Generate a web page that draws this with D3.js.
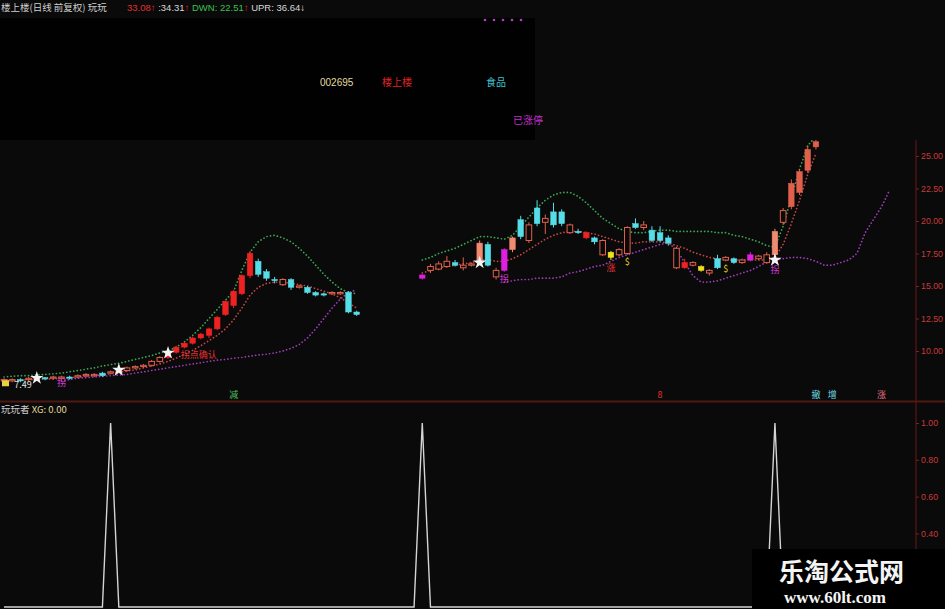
<!DOCTYPE html>
<html><head><meta charset="utf-8">
<script src="https://cdn.jsdelivr.net/npm/d3@7"></script>
<style>
body{margin:0;background:#0a0a0a;}
svg{display:block;font-family:"Liberation Sans","Noto Sans CJK SC",sans-serif;}
</style>
</head><body><svg id="c" width="945" height="609"></svg>
<script>
// ---------- data ----------
const N = 100; // candle slots (index 44..50 suspended)
const openP = [7.7,7.8,7.7,7.8,7.9,7.85,7.95,8.0,7.9,8.0,8.1,8.2,8.1,8.3,8.4,8.5,8.7,8.8,8.9,9.2,9.5,9.9,10.3,10.6,11.0,11.2,11.7,12.8,13.5,14.4,15.8,16.9,16.1,15.5,15.1,15.5,14.9,14.9,14.5,14.3,14.4,14.5,14.5,13.0,
 null,null,null,null,null,null,null,
 15.6,16.2,16.3,16.5,16.8,16.4,16.6,16.8,18.2,15.7,16.2,17.8,20.1,18.5,19.8,20.2,19.7,20.7,19.7,19.1,19.1,18.4,18.5,17.6,17.4,17.5,19.5,19.5,19.3,18.5,18.7,17.9,16.4,16.8,16.5,16.0,16.4,17.0,16.8,17.0,17.0,17.3,16.8,17.4,19.9,21.1,22.2,23.9,25.7];
const closeP = [7.8,7.7,7.8,7.9,7.85,7.95,8.0,7.9,8.0,8.1,8.2,8.1,8.3,8.4,8.5,8.7,8.8,8.9,9.2,9.5,9.8,10.3,10.6,11.0,11.3,11.7,12.6,13.8,14.6,15.8,17.5,15.9,15.6,15.45,15.5,14.9,15.0,14.5,14.3,14.4,14.5,14.4,13.0,12.8,
 null,null,null,null,null,null,null,
 15.85,16.5,16.7,16.9,16.6,16.6,16.7,18.3,16.6,16.2,17.8,18.7,18.8,19.7,21.0,19.9,20.7,19.8,19.1,19.2,18.7,18.7,17.4,17.2,17.8,19.5,19.8,19.7,18.5,19.1,18.3,16.4,16.8,16.6,16.2,16.2,17.1,17.2,17.1,16.8,17.4,17.1,17.4,19.2,20.8,22.9,23.8,25.5,26.1];
const highP = [7.9,7.9,7.9,8.0,8.0,8.0,8.1,8.1,8.1,8.2,8.3,8.3,8.4,8.5,8.6,8.8,8.9,9.0,9.3,9.6,9.9,10.4,10.7,11.1,11.4,11.8,12.7,13.9,14.7,15.9,17.7,17.1,16.3,15.7,15.6,15.6,15.1,15.0,14.6,14.5,14.6,14.6,14.6,13.1,
 null,null,null,null,null,null,null,
 15.9,16.7,16.9,17.3,17.0,17.2,16.8,18.5,18.4,16.4,17.9,18.8,20.4,19.9,21.6,20.5,21.4,20.9,19.8,19.4,19.2,18.8,18.6,17.7,17.9,19.6,20.2,20.0,19.6,19.6,18.9,18.0,17.1,16.9,16.6,16.3,17.4,17.3,17.2,17.1,17.6,17.4,17.6,19.4,21.0,23.2,24.0,25.8,26.3];
const lowP = [7.5,7.6,7.6,7.7,7.7,7.75,7.8,7.8,7.8,7.9,8.0,8.0,8.0,8.2,8.3,8.4,8.6,8.7,8.8,9.1,9.4,9.8,10.2,10.5,10.9,11.0,11.6,12.7,13.3,14.3,15.6,15.7,15.4,15.2,15.0,14.7,14.8,14.4,14.2,14.2,14.3,14.3,12.9,12.7,
 null,null,null,null,null,null,null,
 15.5,16.0,16.2,16.4,16.5,16.2,16.5,16.7,16.5,15.5,16.1,17.6,18.6,18.3,19.6,19.0,19.5,19.6,19.0,19.0,18.6,18.2,17.3,17.0,17.3,17.4,19.4,19.3,18.4,18.4,18.1,16.3,16.3,16.5,16.1,15.8,16.3,16.9,16.7,16.7,16.9,17.0,16.7,17.3,19.7,20.9,22.0,23.7,25.5];
// candle signal class: u=up, c=down, r=strong, m=limit-up, y=signal, s=breakout
const candleFlag = ("uucuucuucuuucuuuuuuurrrrrrrrrrrcccucucccuucc"+"-------"+"muuucuuscumscucuccucrcuyuucucccuruyucucumuusu").split("");

const upperBand = [8.0,8.05,8.1,8.1,8.15,8.2,8.25,8.3,8.4,8.5,8.6,8.7,8.85,8.95,9.05,9.2,9.35,9.5,9.65,9.85,10.0,10.3,
 10.7,11.2,11.8,12.5,13.2,13.9,14.6,16.2,17.6,18.4,18.8,18.9,18.7,18.4,17.9,17.3,16.6,15.9,15.3,14.8,14.5,14.4,
 null,null,null,null,null,null,null,
 17.0,17.2,17.5,17.7,17.9,18.2,18.5,18.8,18.8,18.7,18.6,18.9,19.6,20.3,21.0,21.6,22.0,22.2,22.2,21.9,21.4,20.8,20.2,19.8,19.4,19.2,19.1,19.1,19.2,19.3,19.3,19.2,19.2,19.2,19.2,19.2,19.1,19.1,18.9,18.8,18.6,18.4,18.1,18.0,19.6,21.8,24.0,25.8,26.5];
const midBand = [7.75,7.75,7.75,7.8,7.8,7.85,7.85,7.9,7.95,8.0,8.05,8.1,8.15,8.25,8.35,8.45,8.55,8.7,8.85,9.0,9.2,9.45,9.75,10.05,10.4,10.8,11.2,11.7,12.4,13.3,14.3,14.9,15.2,15.3,15.3,15.2,15.1,15.0,14.8,14.6,14.4,14.1,13.7,13.3,
 null,null,null,null,null,null,null,
 16.0,16.2,16.4,16.5,16.6,16.7,16.8,17.0,17.0,16.9,16.9,17.1,17.4,17.8,18.2,18.6,18.9,19.1,19.2,19.2,19.1,19.0,18.8,18.6,18.4,18.3,18.3,18.4,18.4,18.4,18.3,18.1,17.9,17.6,17.4,17.2,17.1,17.0,17.0,17.0,17.0,17.0,17.0,17.2,18.2,19.8,21.6,23.6,25.2];
const lowerBand = [null,null,null,null,null,null,null,
 7.7,7.8,7.9,7.95,8.0,8.05,8.1,8.15,8.2,8.3,8.4,8.5,8.6,8.7,8.8,8.9,9.0,9.1,9.2,9.3,9.35,9.45,9.5,9.6,9.7,9.75,9.85,10.0,10.2,10.5,11.0,11.7,12.5,13.3,14.0,14.5,14.7,
 null,null,null,null,null,null,null,null,null,null,null,null,null,null,null,null,null,
 15.3,15.4,15.5,15.5,15.6,15.6,15.6,15.7,
 16.0,16.1,16.3,16.5,16.6,16.9,17.2,17.4,17.6,17.8,18.0,18.2,
 18.3,17.8,16.8,15.8,15.3,15.3,15.4,15.6,15.8,
 16.0,16.2,16.5,16.85,17.0,17.1,17.2,17.2,17.1,16.9,
 16.6,16.6,16.8,17.0,17.5,19.1,20.1,21.1,22.4];

const priceTicks = [10, 12.5, 15, 17.5, 20, 22.5, 25];
const xgTicks = [0.4, 0.6, 0.8, 1.0];
const xgSignalIdx = [13, 51, 94];   // XG = 1 on these bars, 0 elsewhere
const xgLength = 104;
const starIdx = [4, 14, 20, 58, 94];
const starPrice = [7.92, 8.54, 9.85, 16.8, 17.0];
const labelIdx = [1, 7, 21.3, 61, 74, 76, 88, 94];
const labelPrice = [7.49, 7.6, 9.75, 15.6, 16.5, 16.9, 16.4, 16.3];
const labelText = ["7.49", "拐", "拐点确认", "拐", "涨", "$", "$", "拐"];
const labelKind = ["low", "turn", "note", "turn", "note", "sig", "sig", "turn"];
const footIdx = [28, 80, 99, 101, 107];
const footText = ["减", "8", "撤", "增", "涨"];
const footKind = ["down", "note", "cyan", "cyan", "pink"];

// ---------- drawing ----------
const svg = d3.select("#c");
const W = 945, H = 609, AX = 916;
svg.append("rect").attr("width", W).attr("height", H).attr("fill", "#0a0a0a");

const x = d3.scaleLinear().domain([0, 111.2]).range([4, AX]);
const y = d3.scaleLinear().domain([10, 25]).range([351, 156]);
const y2 = d3.scaleLinear().domain([0, 1]).range([607, 423]);

const defs = svg.append("defs");
defs.append("clipPath").attr("id", "mainClip").append("rect")
  .attr("x", 0).attr("y", 140).attr("width", AX).attr("height", 260);

const main = svg.append("g").attr("clip-path", "url(#mainClip)");

const bandStyle = [
  [lowerBand, "#9c3cb8"],
  [midBand, "#c04545"],
  [upperBand, "#3aa653"]
];
bandStyle.forEach(([arr, col]) => {
  const line = d3.line().defined(d => d != null).x((d, i) => x(i)).y(d => y(d));
  main.append("path").attr("d", line(arr)).attr("fill", "none")
    .attr("stroke", col).attr("stroke-width", 1.7)
    .attr("stroke-dasharray", "0.1,3.4").attr("stroke-linecap", "round");
});

const colorOf = {u: "#e0604c", c: "#55dde8", r: "#ee2222", m: "#e020e0", y: "#f2e020", s: "#f08a70"};
const bw = 5.6;
const idx = d3.range(N).filter(i => openP[i] != null);
const cg = main.append("g");
idx.forEach(i => {
  const f = candleFlag[i];
  const col = colorOf[f] || "#e0604c";
  const cx = x(i);
  const top = y(Math.max(openP[i], closeP[i]));
  const bot = y(Math.min(openP[i], closeP[i]));
  cg.append("line").attr("x1", cx).attr("x2", cx)
    .attr("y1", y(highP[i])).attr("y2", y(lowP[i]))
    .attr("stroke", col).attr("stroke-width", 1);
  const hollow = f === "u";
  cg.append("rect").attr("x", cx - bw / 2).attr("y", top)
    .attr("width", bw).attr("height", Math.max(1.2, bot - top))
    .attr("fill", hollow ? "#0a0a0a" : col)
    .attr("stroke", col).attr("stroke-width", hollow ? 1 : 0.5);
});

// stars
starIdx.forEach((si, k) => {
  main.append("path").attr("d", d3.symbol(d3.symbolStar, 55)())
    .attr("transform", `translate(${x(si)},${y(starPrice[k])})`)
    .attr("fill", "#f4f4f4");
});

// labels
const kindColor = {low: "#e6e6e6", turn: "#d838d8", note: "#e83030", sig: "#e8d020", down: "#49c060", cyan: "#6fd8e0", pink: "#e07080"};
labelIdx.forEach((li, k) => {
  const startAnchored = labelKind[k] === "low" || labelText[k].length > 1;
  main.append("text").attr("x", x(li) + (startAnchored ? 2 : 0))
    .attr("y", y(labelPrice[k]) + 4)
    .attr("text-anchor", startAnchored ? "start" : "middle")
    .attr("font-size", 9).attr("fill", kindColor[labelKind[k]])
    .attr("font-family", "'Noto Sans CJK SC',sans-serif")
    .text(labelText[k]);
});
// little yellow marker before lowest price label
main.append("rect").attr("x", x(0) - 2).attr("y", y(7.75)).attr("width", 7).attr("height", 6).attr("fill", "#e8d040");

footIdx.forEach((fi, k) => {
  svg.append("text").attr("x", x(fi)).attr("y", 398).attr("text-anchor", "middle")
    .attr("font-size", 9).attr("fill", kindColor[footKind[k]])
    .attr("font-family", "'Noto Sans CJK SC',sans-serif").text(footText[k]);
});

// top overlay block
svg.append("rect").attr("x", 0).attr("y", 18).attr("width", 535).attr("height", 122).attr("fill", "#010101");
[485, 494, 503, 512, 521].forEach(px => svg.append("circle").attr("cx", px).attr("cy", 20).attr("r", 1.3).attr("fill", "#b040c0"));
const ov = svg.append("g").attr("font-family", "'Noto Sans CJK SC',sans-serif").attr("font-size", 10);
ov.append("text").attr("x", 320).attr("y", 86).attr("fill", "#e4dca0").attr("font-family", "'Liberation Sans Narrow','Liberation Sans',sans-serif").text("002695");
ov.append("text").attr("x", 382).attr("y", 86).attr("fill", "#e02424").text("楼上楼");
ov.append("text").attr("x", 486).attr("y", 86).attr("fill", "#40c0d0").text("食品");
ov.append("text").attr("x", 513).attr("y", 124).attr("fill", "#c030c8").text("已涨停");

// header
const hd = svg.append("text").attr("x", 1).attr("y", 11).attr("font-size", 9.5)
  .attr("font-family", "'Noto Sans CJK SC',sans-serif");
hd.append("tspan").attr("fill", "#cfcfcf").text("楼上楼(日线 前复权) 玩玩");
const hd2 = svg.append("text").attr("x", 127).attr("y", 11).attr("font-size", 9.5)
  .attr("font-family", "'Liberation Sans Narrow','Liberation Sans',sans-serif");
hd2.append("tspan").attr("fill", "#e03030").text("33.08");
hd2.append("tspan").attr("fill", "#e03030").text("↑ ");
hd2.append("tspan").attr("fill", "#d8d8d8").text(":34.31");
hd2.append("tspan").attr("fill", "#e03030").text("↑  ");
hd2.append("tspan").attr("fill", "#3cc050").text("DWN: 22.51");
hd2.append("tspan").attr("fill", "#e03030").text("↑ ");
hd2.append("tspan").attr("fill", "#d8d8d8").text("UPR: 36.64");
hd2.append("tspan").attr("fill", "#e8e8e8").text("↓");

// panel separator
svg.append("line").attr("x1", 0).attr("x2", W).attr("y1", 401.5).attr("y2", 401.5)
  .attr("stroke", "#4e1812").attr("stroke-width", 2);

// right axis line
svg.append("line").attr("x1", AX).attr("x2", AX).attr("y1", 140).attr("y2", H)
  .attr("stroke", "#5e1414").attr("stroke-width", 1.2);

const styleAxis = g => {
  g.select(".domain").remove();
  g.selectAll(".tick line").attr("stroke", "#7a2020");
  g.selectAll(".tick text").attr("fill", "#c83a3a").attr("font-size", 8.8)
    .attr("font-family", "'Liberation Sans',sans-serif");
};
svg.append("g").attr("transform", `translate(${AX},0)`)
  .call(d3.axisRight(y).tickValues(priceTicks).tickFormat(d3.format(".2f")).tickSize(3).tickPadding(2))
  .call(styleAxis);
svg.append("g").attr("transform", `translate(${AX},0)`)
  .call(d3.axisRight(y2).tickValues(xgTicks).tickFormat(d3.format(".2f")).tickSize(3).tickPadding(2))
  .call(styleAxis);

// lower indicator
const xg = d3.range(xgLength).map(i => xgSignalIdx.includes(i) ? 1 : 0);
const xgLine = d3.line().x((d, i) => x(i)).y(d => y2(d));
svg.append("path").attr("d", xgLine(xg)).attr("fill", "none")
  .attr("stroke", "#d4d4d4").attr("stroke-width", 1.4);

const tt = svg.append("text").attr("x", 1).attr("y", 413).attr("font-size", 9.5)
  .attr("font-family", "'Noto Sans CJK SC',sans-serif");
tt.append("tspan").attr("fill", "#cfcfcf").text("玩玩者 ");
tt.append("tspan").attr("fill", "#e4dca0").text("XG: 0.00");

// watermark
svg.append("rect").attr("x", 752).attr("y", 549).attr("width", W - 752).attr("height", H - 549).attr("fill", "#000");
svg.append("text").attr("x", 779).attr("y", 581).attr("fill", "#f4f4f4").attr("font-size", 25)
  .attr("font-weight", "bold").attr("font-family", "'Noto Sans CJK SC',sans-serif").text("乐淘公式网");
svg.append("text").attr("x", 784).attr("y", 603).attr("fill", "#f4f4f4").attr("font-size", 17)
  .attr("font-weight", "bold").attr("font-family", "'Liberation Serif',serif").text("www.60lt.com");
</script>
</body></html>
